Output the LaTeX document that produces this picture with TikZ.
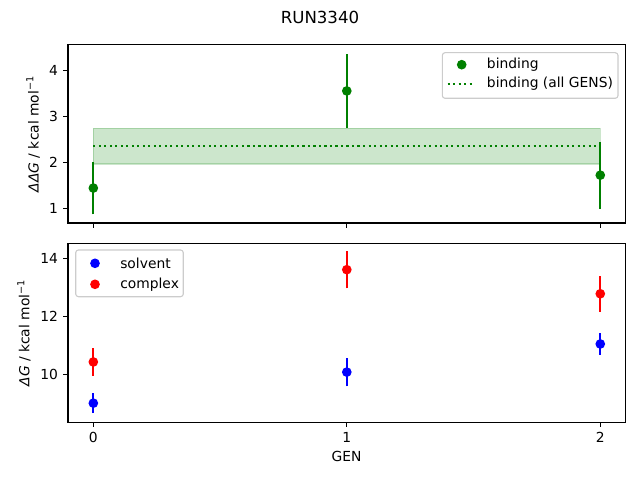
\documentclass[tikz,border=0pt]{standalone}
\usepackage{fontspec}
\setmainfont{DejaVu Sans}
\definecolor{mplgreen}{RGB}{0,128,0}
\tikzset{
  frame/.style={draw=black,line width=0.8pt},
  tickmark/.style={line width=0.8pt},
  ticklabel/.style={font=\fontsize{10}{12}\selectfont,inner sep=0pt},
  errbar/.style={line width=1.5pt},
  dot/.style={circle,inner sep=0pt,minimum size=7pt},
  dotline/.style={line width=1.5pt,dash pattern=on 1.5pt off 2.475pt},
  legendbox/.style={draw=black!20,fill=white,fill opacity=0.8,rounded corners=2pt,line width=0.8pt},
  legendtext/.style={font=\fontsize{10}{12}\selectfont,anchor=west,inner sep=0pt},
}
\begin{document}
\begin{tikzpicture}[x=0.01in,y=-0.01in]
  \useasboundingbox (0,0) rectangle (640,480);
  \node[font=\fontsize{12}{14}\selectfont] (title) at (320,17) {RUN3340};

  % top panel: binding free energy
  \begin{scope}[shift={(93.33,254.33)},x=2.5333in,y=0.46in]
    \fill[mplgreen,opacity=0.2] (0,1.96) rectangle (2,2.74);
    \draw[mplgreen,opacity=0.2,line width=1pt] (0,1.96) rectangle (2,2.74);
    \draw[mplgreen,dotline] (0,2.35) -- (2,2.35);
    \foreach \x/\v/\e in {0/1.44/0.57, 1/3.55/0.81, 2/1.72/0.73} {
      \draw[mplgreen,errbar] (\x,\v-\e) -- (\x,\v+\e);
      \node[dot,fill=mplgreen] (bind\x) at (\x,\v) {};
    }
    \foreach \v in {1,...,4} {
      \draw[tickmark] (-0.1,\v) -- ++(-3.5pt,0);
      \node[ticklabel,anchor=east] (ytop\v) at ([xshift=-7pt]-0.1,\v) {\v};
    }
    \foreach \x in {0,1,2}
      \draw[tickmark] (\x,0.68) -- ++(0,-3.5pt);
  \end{scope}
  \draw[frame] (68,44.7) rectangle (625.3,223);
  \node[rotate=90,anchor=base,font=\fontsize{10}{12}\selectfont] (ylabtop) at (38.5,134)
    {\textit{ΔΔG} / kcal mol\textsuperscript{−1}};

  % bottom panel: solvent and complex legs
  \begin{scope}[shift={(93.33,664.3)},x=2.5333in,y=0.29in]
    \foreach \x/\v/\e in {0/9.0/0.345, 1/10.07/0.49, 2/11.04/0.37} {
      \draw[blue,errbar] (\x,\v-\e) -- (\x,\v+\e);
      \node[dot,fill=blue] (solv\x) at (\x,\v) {};
    }
    \foreach \x/\v/\e in {0/10.42/0.47, 1/13.6/0.64, 2/12.77/0.62} {
      \draw[red,errbar] (\x,\v-\e) -- (\x,\v+\e);
      \node[dot,fill=red] (cplx\x) at (\x,\v) {};
    }
    \foreach \v in {10,12,14} {
      \draw[tickmark] (-0.1,\v) -- ++(-3.5pt,0);
      \node[ticklabel,anchor=east] (ybot\v) at ([xshift=-7pt]-0.1,\v) {\v};
    }
    \foreach \x in {0,1,2} {
      \draw[tickmark] (\x,8.345) -- ++(0,-3.5pt);
      \node[ticklabel,anchor=north] (xbot\x) at ([yshift=-7pt]\x,8.345) {\x};
    }
  \end{scope}
  \draw[frame] (68,243.3) rectangle (625.3,422.3);
  \node[rotate=90,anchor=base,font=\fontsize{10}{12}\selectfont] (ylabbot) at (29.5,333)
    {\textit{ΔG} / kcal mol\textsuperscript{−1}};
  \node[font=\fontsize{10}{12}\selectfont] (xlab) at (346.5,456.7) {GEN};

  % legends
  \draw[legendbox] (442.3,52.7) rectangle (618,98.3);
  \node[dot,fill=mplgreen] (legbind) at (461.7,64.7) {};
  \node[legendtext] (legbindtxt) at (486.7,64.7) {binding};
  \coordinate (legallA) at (447.7,83.7);
  \coordinate (legallB) at (475,83.7);
  \draw[mplgreen,dotline] (legallA) -- (legallB);
  \node[legendtext] (legalltxt) at (486.7,83.7) {binding (all GENS)};

  \draw[legendbox] (75.7,250) rectangle (183.3,296.7);
  \node[dot,fill=blue] (legsolv) at (95,263.3) {};
  \node[legendtext] (legsolvtxt) at (120,263.3) {solvent};
  \node[dot,fill=red] (legcplx) at (95,284.3) {};
  \node[legendtext] (legcplxtxt) at (120,284.3) {complex};
\end{tikzpicture}
\end{document}
